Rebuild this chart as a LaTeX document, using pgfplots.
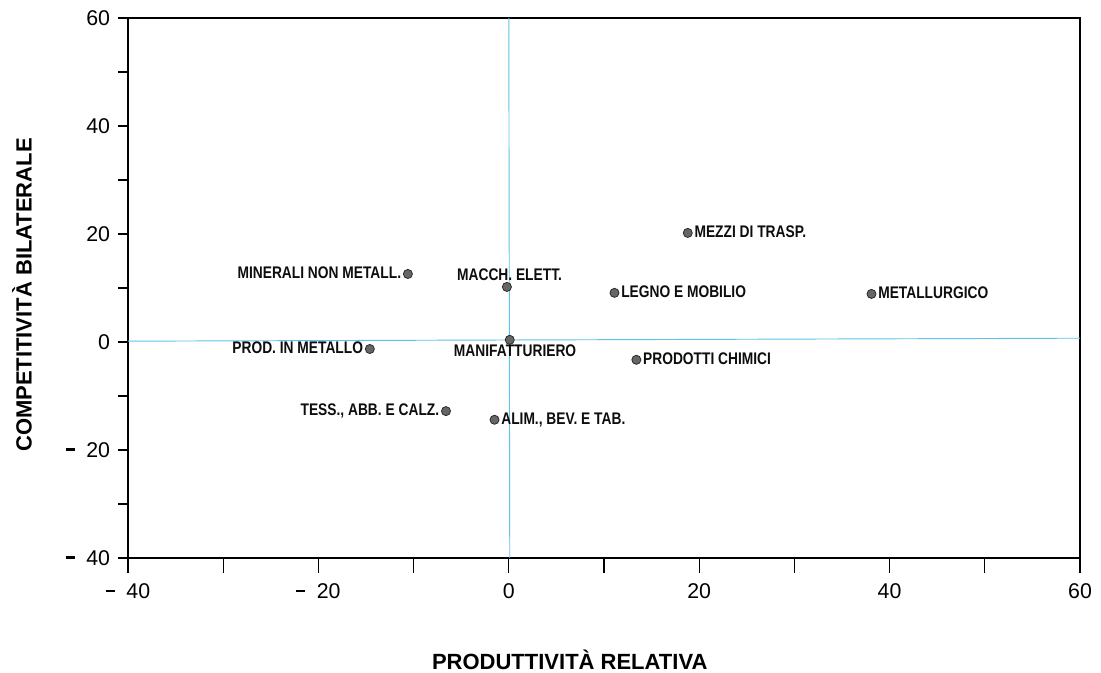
\documentclass[border=0pt]{standalone}
\usepackage{fontspec}
\setmainfont{Liberation Sans}
\newfontfamily\narrowfont{Liberation Sans}[FakeStretch=0.82]
\usepackage{pgfplots}
\usepackage{pgfplotstable}
\pgfplotsset{compat=1.18}
\definecolor{axisblue}{HTML}{5EC2EA}
\definecolor{dotfill}{HTML}{666666}
\definecolor{dotdraw}{HTML}{2A2A2A}
\newcommand{\mneg}{\rule[0.3em]{0.42em}{0.13em}\hspace{0.55em}}

\pgfplotstableread[col sep=semicolon]{
x;y;label
18.8;20.2;MEZZI DI TRASP.
11.1;9.1;LEGNO E MOBILIO
38.1;8.9;METALLURGICO
13.4;-3.3;PRODOTTI CHIMICI
-1.5;-14.4;ALIM., BEV. E TAB.
}\westtable
\pgfplotstableread[col sep=semicolon]{
x;y;label
-10.6;12.6;MINERALI NON METALL.
-14.6;-1.3;PROD. IN METALLO
-6.6;-12.8;TESS., ABB. E CALZ.
}\easttable
\pgfplotstableread[col sep=semicolon]{
x;y;label
-0.2;10.2;MACCH. ELETT.
}\southtable
\pgfplotstableread[col sep=semicolon]{
x;y;label
0.1;0.4;MANIFATTURIERO
}\northtable

\pgfplotsset{
  dots/.style={
    only marks, mark=*, mark size=3.4pt,
    mark options={fill=dotfill, draw=dotdraw, line width=0.6pt},
    point meta=explicit symbolic,
    nodes near coords,
    nodes near coords style={
      anchor=#1,
      font=\narrowfont\bfseries\fontsize{12.6}{14}\selectfont,
      text height=0.72em, text depth=0pt,
      inner sep=4.8pt, text=black!95,
    },
  },
}

\begin{document}
\begin{tikzpicture}
\begin{axis}[
  scale only axis,
  width=714pt, height=405pt,
  xmin=-40, xmax=60, ymin=-40, ymax=60,
  axis line style={line width=0.9pt},
  xtick={-40,-20,0,20,40,60},
  xticklabels={\mneg 40,\mneg 20,0,20,40,60},
  minor x tick num=1,
  xtick pos=bottom,
  ytick pos=left,
  tick align=outside,
  major tick length=11.25pt,
  minor tick length=11.25pt,
  tick style={black, line width=0.9pt},
  ytick={-40,-20,0,20,40,60},
  yticklabels={\mneg 40,\mneg 20,0,20,40,60},
  ytick style={draw=none},
  tick label style={font=\fontsize{16}{18}\selectfont},
  xticklabel style={anchor=north, inner sep=0pt, yshift=-8pt},
  yticklabel style={anchor=east, inner sep=0pt, xshift=-2pt},
  xlabel={\bfseries PRODUTTIVITÀ RELATIVA},
  ylabel={\bfseries COMPETITIVITÀ BILATERALE},
  label style={font=\fontsize{16.5}{19}\selectfont},
  xlabel style={at={([yshift=-76.5pt]axis description cs:0.464,0)}, anchor=center},
  ylabel style={at={([xshift=-79.5pt]axis description cs:0,0.487)}, anchor=center},
  clip=false,
]
\addplot[axisblue, line width=0.7pt] coordinates {(-40,0.15) (60,0.7)};
\addplot[axisblue, line width=0.7pt] coordinates {(0.1,-40) (0,60)};
\pgfplotsinvokeforeach{-40,-30,-20,-10,0,10,20,30,40,50,60}{
  \draw[black, line width=0.9pt] (axis cs:-40,#1) -- ++(-7.5pt,0pt);
}
\addplot[dots=west] table[x=x, y=y, meta=label] {\westtable};
\addplot[dots=east] table[x=x, y=y, meta=label] {\easttable};
\addplot[dots=south, nodes near coords style={xshift=2pt}] table[x=x, y=y, meta=label] {\southtable};
\addplot[dots=north, nodes near coords style={xshift=4pt}] table[x=x, y=y, meta=label] {\northtable};
\end{axis}
\path (current axis.south west) ++(-96pt,-86.25pt) coordinate (BL);
\path (current axis.north east) ++(15.75pt,13.5pt) coordinate (TR);
\pgfresetboundingbox
\useasboundingbox (BL) rectangle (TR);
\end{tikzpicture}
\end{document}
